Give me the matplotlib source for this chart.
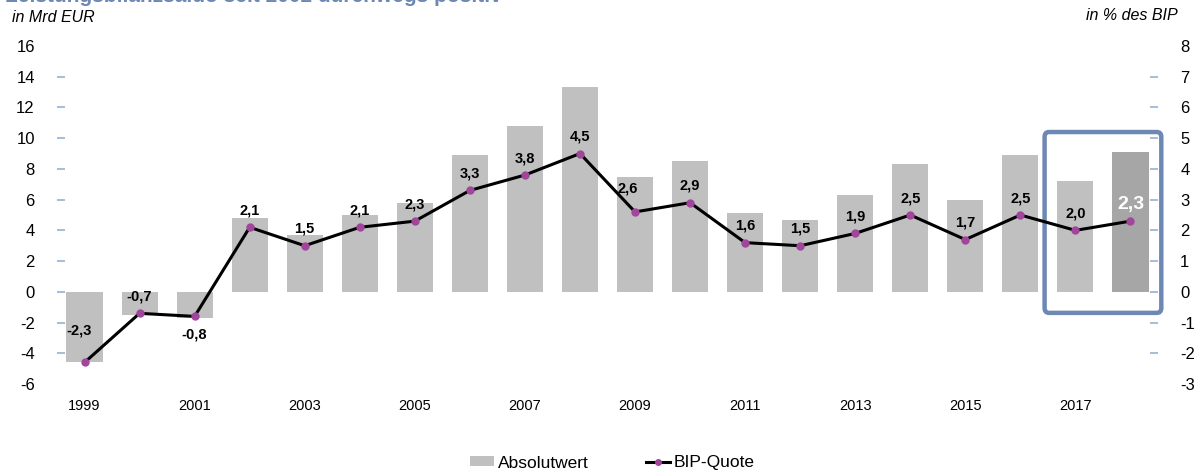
import matplotlib
matplotlib.use("Agg")
import matplotlib.pyplot as plt
from matplotlib.patches import FancyBboxPatch

plt.rcParams["font.family"] = ["Liberation Sans", "DejaVu Sans"]
plt.rcParams["axes.unicode_minus"] = False

# --- Daten ---
jahre = list(range(1999, 2019))
absolutwert = [-4.6, -1.5, -1.7, 4.8, 3.7, 5.0, 5.8, 8.9, 10.8, 13.3,
               7.5, 8.5, 5.1, 4.7, 6.3, 8.3, 6.0, 8.9, 7.2, 9.1]
bip_quote = [-2.3, -0.7, -0.8, 2.1, 1.5, 2.1, 2.3, 3.3, 3.8, 4.5,
             2.6, 2.9, 1.6, 1.5, 1.9, 2.5, 1.7, 2.5, 2.0, 2.3]
links_ticks = [-6, -4, -2, 0, 2, 4, 6, 8, 10, 12, 14, 16]
rechts_ticks = [-3, -2, -1, 0, 1, 2, 3, 4, 5, 6, 7, 8]

# Label-Verschiebungen in Pixel (Standard: oberhalb des Punkts)
label_offset = {1999: (-5, 32), 2001: (0, -18), 2009: (-7, 23)}

grau = "#c0c0c0"
grau_dunkel = "#a6a6a6"
lila = "#a0469b"
tick_farbe = "#98b0d4"
blau = "#6c88b3"

fig = plt.figure(figsize=(11.95, 4.72), dpi=100)
ax = fig.add_axes([57 / 1195, 1 - 384 / 472, 1101 / 1195, 338 / 472])

farben = [grau] * (len(jahre) - 1) + [grau_dunkel]
ax.bar(jahre, absolutwert, width=0.655, color=farben, zorder=2)
ax.set_xlim(jahre[0] - 0.5, jahre[-1] + 0.5)
ax.set_ylim(links_ticks[0], links_ticks[-1])
ax.yaxis.remove_overlapping_locs = False
ax.set_yticks(links_ticks)
ax.set_yticks(links_ticks[1:-1], minor=True)
ax.set_xticks(jahre[::2])
ax.set_xticklabels([str(j) for j in jahre[::2]], fontsize=10.5)
ax.tick_params(axis="x", length=0, pad=11)
ax.tick_params(axis="y", which="major", length=0, labelsize=12, pad=16)
ax.tick_params(axis="y", which="minor", direction="in", length=6, width=1.2,
               color=tick_farbe)
for s in ax.spines.values():
    s.set_visible(False)

ax2 = ax.twinx()
ax2.plot(jahre, bip_quote, color="black", lw=2.2, marker="o", ms=5,
         mfc=lila, mec=lila, zorder=3)
ax2.set_ylim(rechts_ticks[0], rechts_ticks[-1])
ax2.yaxis.remove_overlapping_locs = False
ax2.set_yticks(rechts_ticks)
ax2.set_yticks(rechts_ticks[1:-1], minor=True)
ax2.tick_params(axis="y", which="major", length=0, labelsize=12, pad=16)
ax2.tick_params(axis="y", which="minor", direction="in", length=6, width=1.2,
                color=tick_farbe)
for s in ax2.spines.values():
    s.set_visible(False)

for j, q in zip(jahre, bip_quote):
    dx, dy = label_offset.get(j, (0, 17))
    txt = f"{q:.1f}".replace(".", ",")
    if j == jahre[-1]:
        ax2.annotate(txt, (j, q), xytext=(dx, dy), textcoords="offset pixels",
                     ha="center", va="center", fontsize=14, fontweight="bold",
                     color="white", zorder=5)
    else:
        ax2.annotate(txt, (j, q), xytext=(dx, dy), textcoords="offset pixels",
                     ha="center", va="center", fontsize=10.5, fontweight="bold",
                     color="black", zorder=5)

# Rahmen um die letzten beiden Jahre
box = FancyBboxPatch((jahre[-2] - 0.56, -1.37), 1 + 2 * 0.56, 10.4 + 1.37,
                     boxstyle="round,pad=0,rounding_size=0.08",
                     fill=False, edgecolor=blau, lw=3.2, zorder=6,
                     clip_on=False, mutation_aspect=4)
ax.add_patch(box)

# Titel und Achsenbeschriftungen
fig.text(5 / 1195, 1 - 2 / 472, "Leistungsbilanzsaldo seit 2002 durchwegs positiv",
         fontsize=15, fontweight="bold", color=blau, va="baseline", ha="left")
fig.text(12 / 1195, 1 - 18 / 472, "in Mrd EUR", fontsize=11.5, style="italic",
         va="center", ha="left")
fig.text(1178 / 1195, 1 - 16 / 472, "in % des BIP", fontsize=11.5, style="italic",
         va="center", ha="right")

# Legende
fig.legend(handles=[ax.patches[0], ax2.lines[0]], labels=["Absolutwert", "BIP-Quote"],
           loc="center", bbox_to_anchor=(612 / 1195, 1 - 463 / 472), ncol=2,
           frameon=False, fontsize=12.5, handlelength=1.4, handleheight=0.5,
           handletextpad=0.2, columnspacing=3.3, markerscale=0.8)

fig.savefig("out.png", dpi=100)
